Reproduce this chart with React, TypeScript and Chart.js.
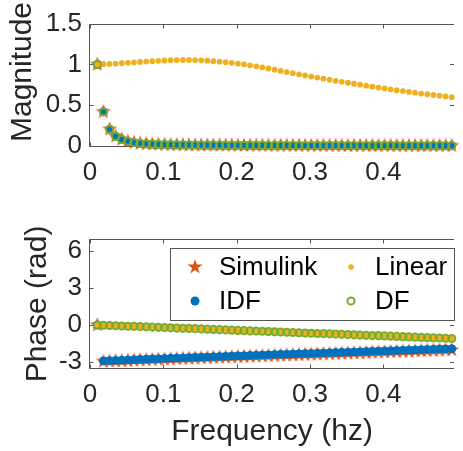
import React, { useEffect, useRef } from 'react';
import { Chart, registerables } from 'chart.js';
Chart.register(...registerables);

// ---------- data ----------
const freq = [
  0.0100, 0.0183, 0.0267, 0.0350, 0.0433, 0.0517, 0.0600, 0.0683, 0.0767, 0.0850,
  0.0933, 0.1017, 0.1100, 0.1183, 0.1267, 0.1350, 0.1433, 0.1517, 0.1600, 0.1683,
  0.1767, 0.1850, 0.1933, 0.2017, 0.2100, 0.2183, 0.2267, 0.2350, 0.2433, 0.2517,
  0.2600, 0.2683, 0.2767, 0.2850, 0.2933, 0.3017, 0.3100, 0.3183, 0.3267, 0.3350,
  0.3433, 0.3517, 0.3600, 0.3683, 0.3767, 0.3850, 0.3933, 0.4017, 0.4100, 0.4183,
  0.4267, 0.4350, 0.4433, 0.4517, 0.4600, 0.4683, 0.4767, 0.4850, 0.4933,
];

const magSimulink = [
  1.0, 0.42, 0.205, 0.119, 0.08, 0.057, 0.042, 0.033, 0.027, 0.023,
  0.02, 0.018, 0.016, 0.015, 0.014, 0.013, 0.012, 0.011, 0.011, 0.01,
  0.01, 0.009, 0.009, 0.009, 0.008, 0.008, 0.008, 0.008, 0.007, 0.007,
  0.007, 0.007, 0.007, 0.006, 0.006, 0.006, 0.006, 0.006, 0.006, 0.006,
  0.005, 0.005, 0.005, 0.005, 0.005, 0.005, 0.005, 0.005, 0.005, 0.005,
  0.004, 0.004, 0.004, 0.004, 0.004, 0.004, 0.004, 0.004, 0.004,
];
const magIDF = [
  1.0, 0.42, 0.205, 0.119, 0.08, 0.057, 0.042, 0.033, 0.027, 0.023,
  0.02, 0.018, 0.016, 0.015, 0.014, 0.013, 0.012, 0.011, 0.011, 0.01,
  0.01, 0.009, 0.009, 0.009, 0.008, 0.008, 0.008, 0.008, 0.007, 0.007,
  0.007, 0.007, 0.007, 0.006, 0.006, 0.006, 0.006, 0.006, 0.006, 0.006,
  0.005, 0.005, 0.005, 0.005, 0.005, 0.005, 0.005, 0.005, 0.005, 0.005,
  0.004, 0.004, 0.004, 0.004, 0.004, 0.004, 0.004, 0.004, 0.004,
];
const magLinear = [
  1.000, 1.003, 1.006, 1.010, 1.014, 1.019, 1.024, 1.030, 1.035, 1.040,
  1.044, 1.048, 1.051, 1.053, 1.054, 1.054, 1.053, 1.050, 1.046, 1.040,
  1.034, 1.027, 1.019, 1.010, 1.000, 0.989, 0.977, 0.964, 0.950, 0.935,
  0.920, 0.906, 0.892, 0.878, 0.864, 0.851, 0.838, 0.825, 0.812, 0.799,
  0.787, 0.775, 0.763, 0.751, 0.739, 0.727, 0.716, 0.705, 0.694, 0.683,
  0.673, 0.663, 0.653, 0.643, 0.634, 0.625, 0.616, 0.607, 0.598,
];
const magDF = [
  1.0, 0.42, 0.205, 0.119, 0.08, 0.057, 0.042, 0.033, 0.027, 0.023,
  0.02, 0.018, 0.016, 0.015, 0.014, 0.013, 0.012, 0.011, 0.011, 0.01,
  0.01, 0.009, 0.009, 0.009, 0.008, 0.008, 0.008, 0.008, 0.007, 0.007,
  0.007, 0.007, 0.007, 0.006, 0.006, 0.006, 0.006, 0.006, 0.006, 0.006,
  0.005, 0.005, 0.005, 0.005, 0.005, 0.005, 0.005, 0.005, 0.005, 0.005,
  0.004, 0.004, 0.004, 0.004, 0.004, 0.004, 0.004, 0.004, 0.004,
];

const phaseSimulink = [
  0, -2.97, -2.95, -2.93, -2.915, -2.895, -2.875, -2.855, -2.84, -2.82,
  -2.80, -2.785, -2.765, -2.75, -2.73, -2.715, -2.70, -2.68, -2.665, -2.645,
  -2.63, -2.615, -2.60, -2.58, -2.565, -2.55, -2.535, -2.515, -2.50, -2.485,
  -2.47, -2.455, -2.44, -2.42, -2.405, -2.39, -2.375, -2.36, -2.345, -2.325,
  -2.31, -2.295, -2.28, -2.265, -2.25, -2.23, -2.215, -2.20, -2.185, -2.17,
  -2.155, -2.14, -2.12, -2.105, -2.09, -2.075, -2.06, -2.045, -2.03,
];
const phaseIDF = [
  0, -2.92, -2.90, -2.88, -2.86, -2.84, -2.82, -2.80, -2.78, -2.76,
  -2.745, -2.725, -2.705, -2.69, -2.67, -2.65, -2.635, -2.615, -2.60, -2.58,
  -2.565, -2.545, -2.53, -2.51, -2.495, -2.475, -2.46, -2.44, -2.425, -2.41,
  -2.39, -2.375, -2.36, -2.34, -2.325, -2.31, -2.29, -2.275, -2.26, -2.24,
  -2.225, -2.21, -2.19, -2.175, -2.16, -2.14, -2.125, -2.11, -2.09, -2.075,
  -2.06, -2.04, -2.025, -2.01, -1.99, -1.975, -1.96, -1.945, -1.93,
];
const phaseLinear = [
  0, -0.02, -0.04, -0.06, -0.08, -0.10, -0.11, -0.13, -0.15, -0.17,
  -0.19, -0.21, -0.23, -0.25, -0.27, -0.28, -0.30, -0.32, -0.34, -0.36,
  -0.38, -0.40, -0.42, -0.44, -0.46, -0.48, -0.49, -0.51, -0.53, -0.55,
  -0.57, -0.59, -0.61, -0.63, -0.65, -0.67, -0.69, -0.70, -0.72, -0.74,
  -0.76, -0.78, -0.80, -0.82, -0.84, -0.86, -0.87, -0.89, -0.91, -0.93,
  -0.95, -0.97, -0.99, -1.01, -1.03, -1.05, -1.06, -1.08, -1.10,
];
const phaseDF = [
  0, -0.02, -0.04, -0.06, -0.08, -0.10, -0.11, -0.13, -0.15, -0.17,
  -0.19, -0.21, -0.23, -0.25, -0.27, -0.28, -0.30, -0.32, -0.34, -0.36,
  -0.38, -0.40, -0.42, -0.44, -0.46, -0.48, -0.49, -0.51, -0.53, -0.55,
  -0.57, -0.59, -0.61, -0.63, -0.65, -0.67, -0.69, -0.70, -0.72, -0.74,
  -0.76, -0.78, -0.80, -0.82, -0.84, -0.86, -0.87, -0.89, -0.91, -0.93,
  -0.95, -0.97, -0.99, -1.01, -1.03, -1.05, -1.06, -1.08, -1.10,
];

const seriesNames = ['Simulink', 'IDF', 'Linear', 'DF'];
const xTicks = [0, 0.1, 0.2, 0.3, 0.4];
const xTickLabels = ['0', '0.1', '0.2', '0.3', '0.4'];
const magTicks = [0, 0.5, 1, 1.5];
const magTickLabels = ['0', '0.5', '1', '1.5'];
const phaseTicks = [-3, 0, 3, 6];
const phaseTickLabels = ['-3', '0', '3', '6'];
const xTitle = 'Frequency (hz)';
const magTitle = 'Magnitude';
const phaseTitle = 'Phase (rad)';

// ---------- style ----------
const C_SIM = '#D95319';
const C_IDF = '#0072BD';
const C_LIN = '#EDB120';
const C_DF = '#77AC30';
const TXT = '#262626';
const AXC = '#555555';
const FONT = "'Liberation Sans', Arial, Helvetica, sans-serif";
const TICK_FS = 26;
const TITLE_FS = 30;
const LEG_FS = 26;
const STAR_R = 8;

function makeStar(R: number, color: string): HTMLCanvasElement {
  const size = Math.ceil(R) * 2 + 4;
  const c = document.createElement('canvas');
  c.width = size;
  c.height = size;
  const ctx = c.getContext('2d')!;
  const cx = size / 2;
  const cy = size / 2;
  ctx.beginPath();
  for (let i = 0; i < 10; i++) {
    const a = -Math.PI / 2 + (i * Math.PI) / 5;
    const r = i % 2 === 0 ? R : R * 0.382;
    const px = cx + r * Math.cos(a);
    const py = cy + r * Math.sin(a);
    if (i === 0) ctx.moveTo(px, py);
    else ctx.lineTo(px, py);
  }
  ctx.closePath();
  ctx.fillStyle = color;
  ctx.fill();
  return c;
}

function pts(ys: number[]) {
  return freq.map((x, i) => ({ x, y: ys[i] }));
}

function labelFor(vals: number[], labels: string[]) {
  return (v: number | string) => {
    const n = Number(v);
    const i = vals.findIndex((t) => Math.abs(t - n) < 1e-9);
    return i >= 0 ? labels[i] : '';
  };
}

const boxPlugin = {
  id: 'matlabBox',
  beforeDatasetsDraw(chart: any, _args: any, opts: any) {
    const { ctx, chartArea } = chart;
    const { left, top, bottom, right } = chartArea;
    const xs = chart.scales.x;
    const ys = chart.scales.y;
    const L = Math.round(left) - 0.5;
    const T = Math.round(top) + 0.5;
    const B = Math.round(bottom) + 0.5;
    const R = right;
    const tl = 4;
    ctx.save();
    ctx.strokeStyle = AXC;
    ctx.lineWidth = 1;
    ctx.beginPath();
    ctx.moveTo(L, T);
    ctx.lineTo(R, T);
    ctx.moveTo(L, B);
    ctx.lineTo(R, B);
    ctx.moveTo(L, T);
    ctx.lineTo(L, B);
    for (const v of opts.xTicks as number[]) {
      const px = Math.round(xs.getPixelForValue(v)) + 0.5;
      ctx.moveTo(px, B);
      ctx.lineTo(px, B - tl);
      ctx.moveTo(px, T);
      ctx.lineTo(px, T + tl);
    }
    for (const v of opts.yTicks as number[]) {
      const py = Math.round(ys.getPixelForValue(v)) + 0.5;
      ctx.moveTo(L, py);
      ctx.lineTo(L + tl, py);
      ctx.moveTo(R, py);
      ctx.lineTo(R - tl, py);
    }
    ctx.stroke();
    // y-axis title
    ctx.fillStyle = TXT;
    ctx.font = `${TITLE_FS}px ${FONT}`;
    ctx.textAlign = 'center';
    ctx.textBaseline = 'middle';
    ctx.translate(opts.titleX, opts.titleY);
    ctx.rotate(-Math.PI / 2);
    ctx.fillText(opts.title, 0, 0);
    ctx.restore();
  },
};

const starImg = typeof document !== 'undefined' ? makeStar(STAR_R, C_SIM) : null;

const legendPlugin = {
  id: 'matlabLegend',
  afterDatasetsDraw(chart: any, _args: any, opts: any) {
    if (!opts || !opts.show) return;
    const { ctx } = chart;
    const bx = 171, by = 48, bw = 284, bh = 72;
    ctx.save();
    ctx.fillStyle = '#ffffff';
    ctx.fillRect(bx, by, bw, bh);
    ctx.strokeStyle = AXC;
    ctx.lineWidth = 1;
    ctx.strokeRect(bx - 0.5, by + 0.5, bw, bh);
    const row1 = 67, row2 = 101;
    const mx1 = 195, mx2 = 351;
    const tx1 = 219, tx2 = 375;
    if (starImg) ctx.drawImage(starImg, mx1 - starImg.width / 2, row1 - starImg.height / 2);
    ctx.fillStyle = C_LIN;
    ctx.beginPath();
    ctx.arc(mx2, row1, 2.8, 0, Math.PI * 2);
    ctx.fill();
    ctx.fillStyle = C_IDF;
    ctx.beginPath();
    ctx.arc(mx1, row2, 4.5, 0, Math.PI * 2);
    ctx.fill();
    ctx.strokeStyle = C_DF;
    ctx.lineWidth = 2;
    ctx.beginPath();
    ctx.arc(mx2, row2, 3.6, 0, Math.PI * 2);
    ctx.stroke();
    ctx.fillStyle = '#000000';
    ctx.font = `${LEG_FS}px ${FONT}`;
    ctx.textBaseline = 'middle';
    ctx.textAlign = 'left';
    ctx.fillText(seriesNames[0], tx1, row1 + 1);
    ctx.fillText(seriesNames[2], tx2, row1 + 1);
    ctx.fillText(seriesNames[1], tx1, row2 + 1);
    ctx.fillText(seriesNames[3], tx2, row2 + 1);
    ctx.restore();
  },
};

function datasets(sim: number[], idf: number[], lin: number[], df: number[]) {
  return [
    {
      label: seriesNames[0], data: pts(sim), showLine: false, order: 4, clip: false as any,
      pointStyle: starImg as any, pointRadius: STAR_R, backgroundColor: C_SIM, borderColor: C_SIM,
    },
    {
      label: seriesNames[1], data: pts(idf), showLine: false, order: 3, clip: false as any,
      pointStyle: 'circle', pointRadius: 4, borderWidth: 1, backgroundColor: C_IDF, borderColor: C_IDF,
    },
    {
      label: seriesNames[2], data: pts(lin), showLine: false, order: 2, clip: false as any,
      pointStyle: 'circle', pointRadius: 2.9, borderWidth: 0, backgroundColor: C_LIN, borderColor: C_LIN,
    },
    {
      label: seriesNames[3], data: pts(df), showLine: false, order: 1, clip: false as any,
      pointStyle: 'circle', pointRadius: 3.6, borderWidth: 2, backgroundColor: 'rgba(0,0,0,0)', borderColor: C_DF,
    },
  ];
}

function makeConfig(p: {
  sim: number[]; idf: number[]; lin: number[]; df: number[];
  yMin: number; yMax: number; yTicks: number[]; yLabels: string[];
  yTitle: string; titleX: number; titleY: number; padTop: number; xAxisH: number;
  showXTitle: boolean; legend: boolean;
}): any {
  return {
    type: 'scatter',
    data: { datasets: datasets(p.sim, p.idf, p.lin, p.df) },
    plugins: [boxPlugin, legendPlugin],
    options: {
      animation: false,
      responsive: false,
      devicePixelRatio: 1,
      events: [],
      layout: { padding: { top: p.padTop, left: 0, right: 0, bottom: 0 } },
      plugins: {
        legend: { display: false },
        tooltip: { enabled: false },
        matlabBox: { xTicks, yTicks: p.yTicks, title: p.yTitle, titleX: p.titleX, titleY: p.titleY },
        matlabLegend: { show: p.legend },
      },
      scales: {
        x: {
          type: 'linear',
          min: 0,
          max: 0.4964,
          afterBuildTicks: (s: any) => { s.ticks = xTicks.map((v) => ({ value: v })); },
          afterFit: (s: any) => { s.height = p.xAxisH; },
          grid: { display: false, drawTicks: false },
          border: { display: false },
          ticks: {
            callback: labelFor(xTicks, xTickLabels),
            font: { family: FONT, size: TICK_FS },
            color: TXT,
            padding: 11,
            maxRotation: 0,
            autoSkip: false,
          },
          title: {
            display: p.showXTitle,
            text: xTitle,
            font: { family: FONT, size: TITLE_FS },
            color: TXT,
            padding: { top: 0, bottom: 1 },
          },
        },
        y: {
          type: 'linear',
          min: p.yMin,
          max: p.yMax,
          afterBuildTicks: (s: any) => { s.ticks = p.yTicks.map((v) => ({ value: v })); },
          afterFit: (s: any) => { s.width = 90; },
          grid: { display: false, drawTicks: false },
          border: { display: false },
          ticks: {
            callback: labelFor(p.yTicks, p.yLabels),
            font: { family: FONT, size: TICK_FS },
            color: TXT,
            padding: 8,
            autoSkip: false,
          },
          title: { display: false },
        },
      },
    },
  };
}

export default function App() {
  const topRef = useRef<HTMLCanvasElement>(null);
  const botRef = useRef<HTMLCanvasElement>(null);

  useEffect(() => {
    const c1 = new Chart(topRef.current!, makeConfig({
      sim: magSimulink, idf: magIDF, lin: magLinear, df: magDF,
      yMin: 0, yMax: 1.5, yTicks: magTicks, yLabels: magTickLabels,
      yTitle: magTitle, titleX: 23, titleY: 72, padTop: 16, xAxisH: 54,
      showXTitle: false, legend: false,
    }));
    const c2 = new Chart(botRef.current!, makeConfig({
      sim: phaseSimulink, idf: phaseIDF, lin: phaseLinear, df: phaseDF,
      yMin: -3.5, yMax: 7, yTicks: phaseTicks, yLabels: phaseTickLabels,
      yTitle: phaseTitle, titleX: 38, titleY: 104, padTop: 39, xAxisH: 83,
      showXTitle: true, legend: true,
    }));
    return () => { c1.destroy(); c2.destroy(); };
  }, []);

  return (
    <div style={{ position: 'fixed', left: 0, top: 0, width: 463, height: 451, background: '#ffffff', overflow: 'hidden' }}>
      <canvas ref={topRef} width={463} height={200} style={{ position: 'absolute', left: 0, top: 0, width: 463, height: 200 }} />
      <canvas ref={botRef} width={463} height={251} style={{ position: 'absolute', left: 0, top: 200, width: 463, height: 251 }} />
    </div>
  );
}
